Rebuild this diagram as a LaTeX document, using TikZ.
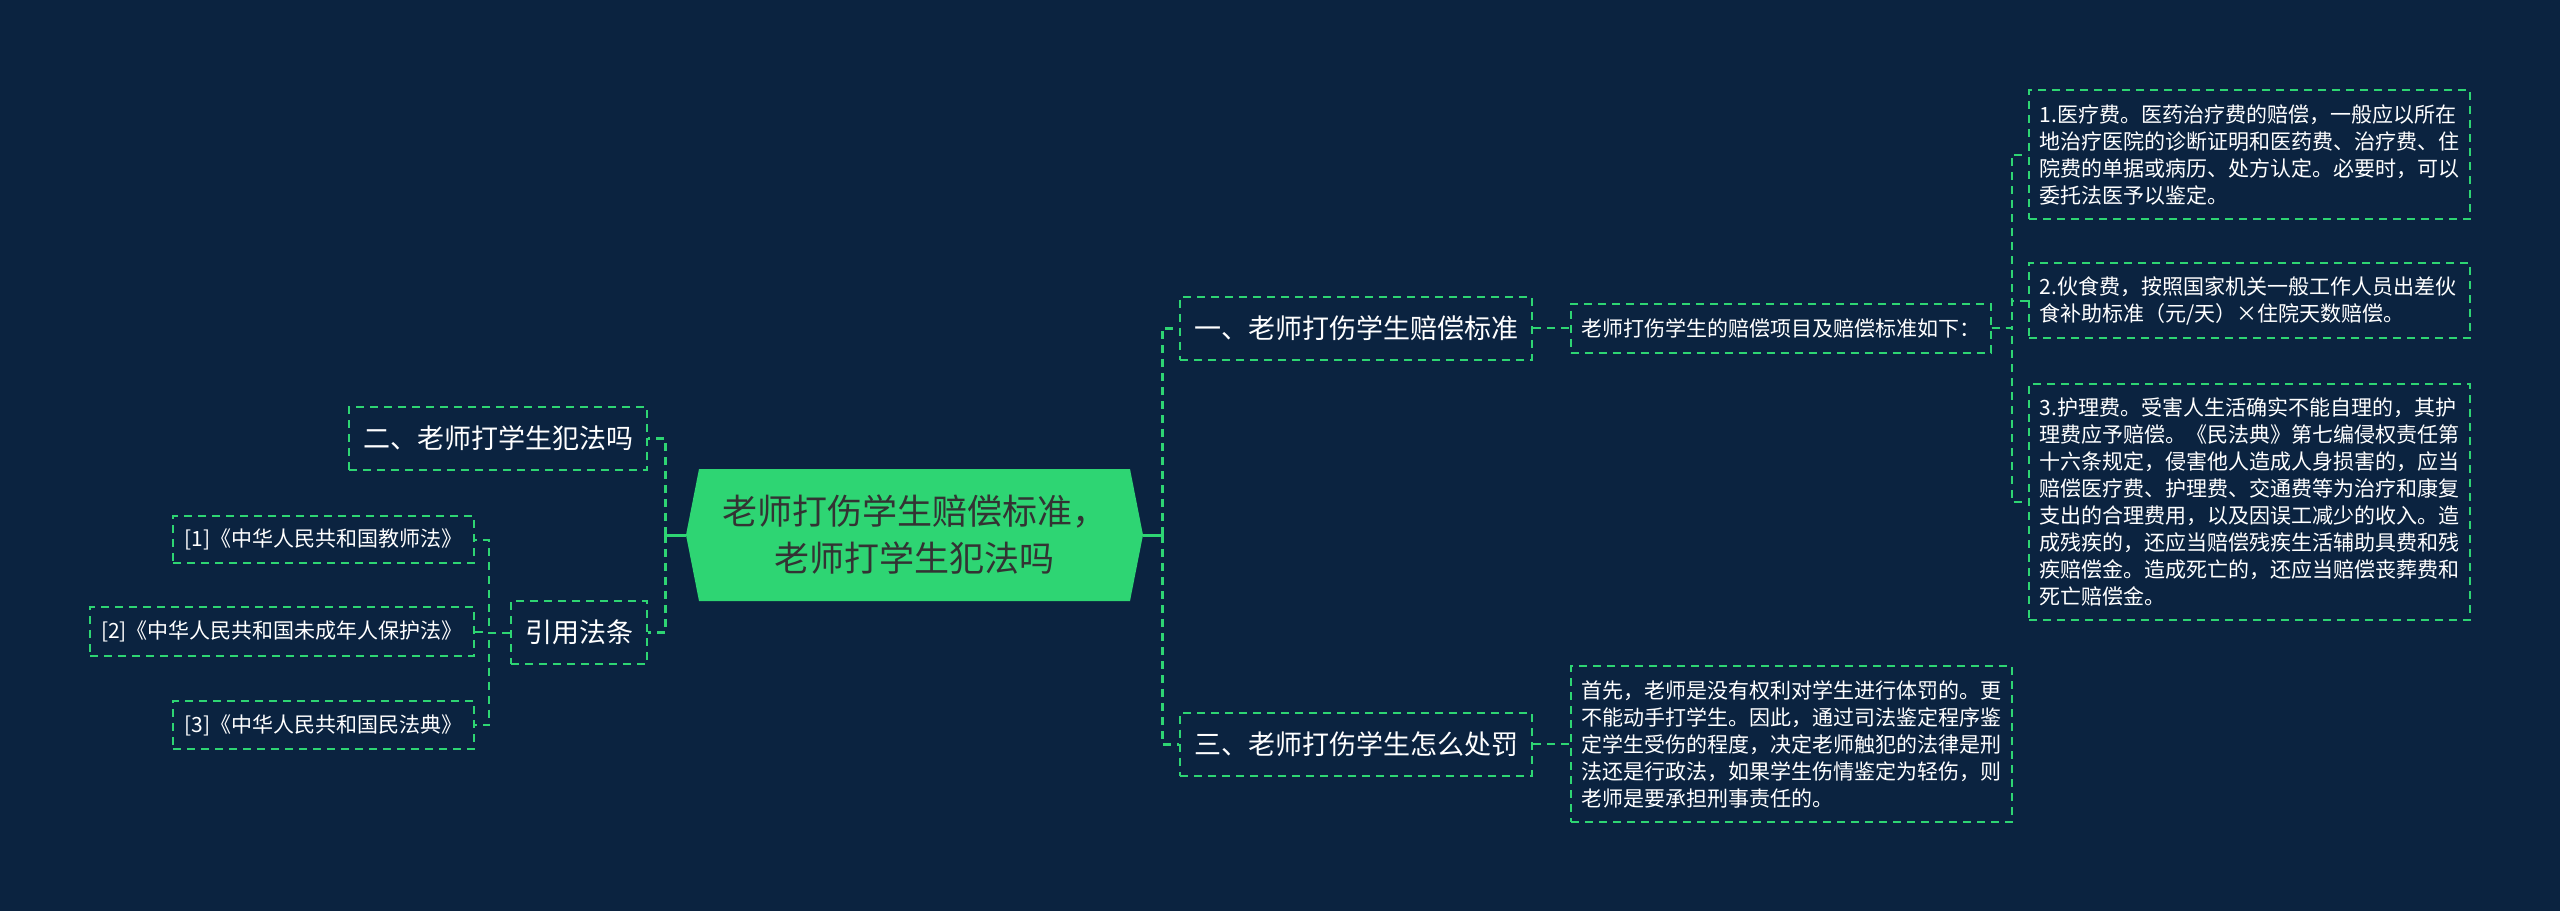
\documentclass[tikz,border=0pt]{standalone}
\usepackage{fontspec}
\setmainfont{Noto Sans CJK SC}
\usepackage{tikz}
\definecolor{bgc}{HTML}{0B2340}
\definecolor{grn}{HTML}{2ED573}
\definecolor{rtxt}{HTML}{333333}

\begin{document}
\begin{tikzpicture}[x=0.5pt,y=-0.5pt,
 br/.style={draw=grn,line width=1pt,dash pattern=on 4pt off 3pt,text=white,inner sep=0pt,
  font=\fontsize{13.5}{16}\selectfont,minimum height=31.5pt},
 nt/.style={br,font=\fontsize{10.5}{13.5}\selectfont,align=left,inner xsep=5.25pt},
 leaf/.style={nt,text width=210pt},
 ln/.style={draw=grn,line width=1pt,dash pattern=on 4pt off 3pt},
 trunk/.style={ln,line width=1.5pt}]
\fill[bgc] (0,0) rectangle (2560,911);
\node[fill=bgc,inner sep=0pt,minimum width=228.5pt,minimum height=66pt,align=center,text=rtxt,
 font=\fontsize{17.5}{23.5}\selectfont,
 path picture={\fill[grn] ([xshift=6.5pt]path picture bounding box.north west)
  -- ([xshift=-6.5pt]path picture bounding box.north east) -- (path picture bounding box.east)
  -- ([xshift=-6.5pt]path picture bounding box.south east) -- ([xshift=6.5pt]path picture bounding box.south west)
  -- (path picture bounding box.west) -- cycle;}]
 (root) at (914.5,535) {老师打伤学生赔偿标准，\\老师打学生犯法吗};
\node[br,minimum width=176pt] (b1) at (1356,328) {一、老师打伤学生赔偿标准};
\node[br,minimum width=176pt] (b3) at (1356,744) {三、老师打伤学生怎么处罚};
\node[br,minimum width=149pt] (b2) at (498,438.5) {二、老师打学生犯法吗};
\node[br,minimum width=68pt] (cite) at (579,632.5) {引用法条};
\node[nt,minimum width=209.5pt,minimum height=24.5pt] (s1) at (1780.5,328) {老师打伤学生的赔偿项目及赔偿标准如下：};
\node[leaf,minimum height=64.5pt] (l1) at (2249.5,154.5) {1.医疗费。医药治疗费的赔偿，一般应以所在\\地治疗医院的诊断证明和医药费、治疗费、住\\院费的单据或病历、处方认定。必要时，可以\\委托法医予以鉴定。};
\node[leaf,minimum height=37.5pt] (l2) at (2249.5,300.5) {2.伙食费，按照国家机关一般工作人员出差伙\\食补助标准（元/天）×住院天数赔偿。};
\node[leaf,minimum height=118pt] (l3) at (2249.5,502) {3.护理费。受害人生活确实不能自理的，其护\\理费应予赔偿。《民法典》第七编侵权责任第\\十六条规定，侵害他人造成人身损害的，应当\\赔偿医疗费、护理费、交通费等为治疗和康复\\支出的合理费用，以及因误工减少的收入。造\\成残疾的，还应当赔偿残疾生活辅助具费和残\\疾赔偿金。造成死亡的，还应当赔偿丧葬费和\\死亡赔偿金。};
\node[leaf,minimum height=78pt] (s3) at (1791.5,744) {首先，老师是没有权利对学生进行体罚的。更\\不能动手打学生。因此，通过司法鉴定程序鉴\\定学生受伤的程度，决定老师触犯的法律是刑\\法还是行政法，如果学生伤情鉴定为轻伤，则\\老师是要承担刑事责任的。};
\node[nt,minimum width=150.5pt,minimum height=23.5pt] (law1) at (323.5,539.5) {[1]《中华人民共和国教师法》};
\node[nt,minimum width=192pt,minimum height=24.5pt] (law2) at (282,631.5) {[2]《中华人民共和国未成年人保护法》};
\node[nt,minimum width=150.5pt,minimum height=24pt] (law3) at (323.5,725) {[3]《中华人民共和国民法典》};
\coordinate (rj) at ([xshift=9.5pt]root.east);\coordinate (lj) at ([xshift=-10pt]root.west);
\draw[trunk,solid] (root.east) -- (rj);\draw[trunk,solid] (root.west) -- (lj);
\draw[trunk] (rj) |- (b1.west);\draw[trunk] (rj) |- (b3.west);
\draw[trunk] (lj) |- (b2.east);\draw[trunk] (lj) |- (cite.east);
\draw[ln] (b1) -- (s1);\draw[ln] (b3) -- (s3);
\foreach \n in {l1,l2,l3} \draw[ln] (s1.east) -- ++(20,0) |- (\n.west);
\foreach \n in {law1,law2,law3} \draw[ln] (cite.west) -- ++(-21,0) |- (\n.east);
\end{tikzpicture}
\end{document}
